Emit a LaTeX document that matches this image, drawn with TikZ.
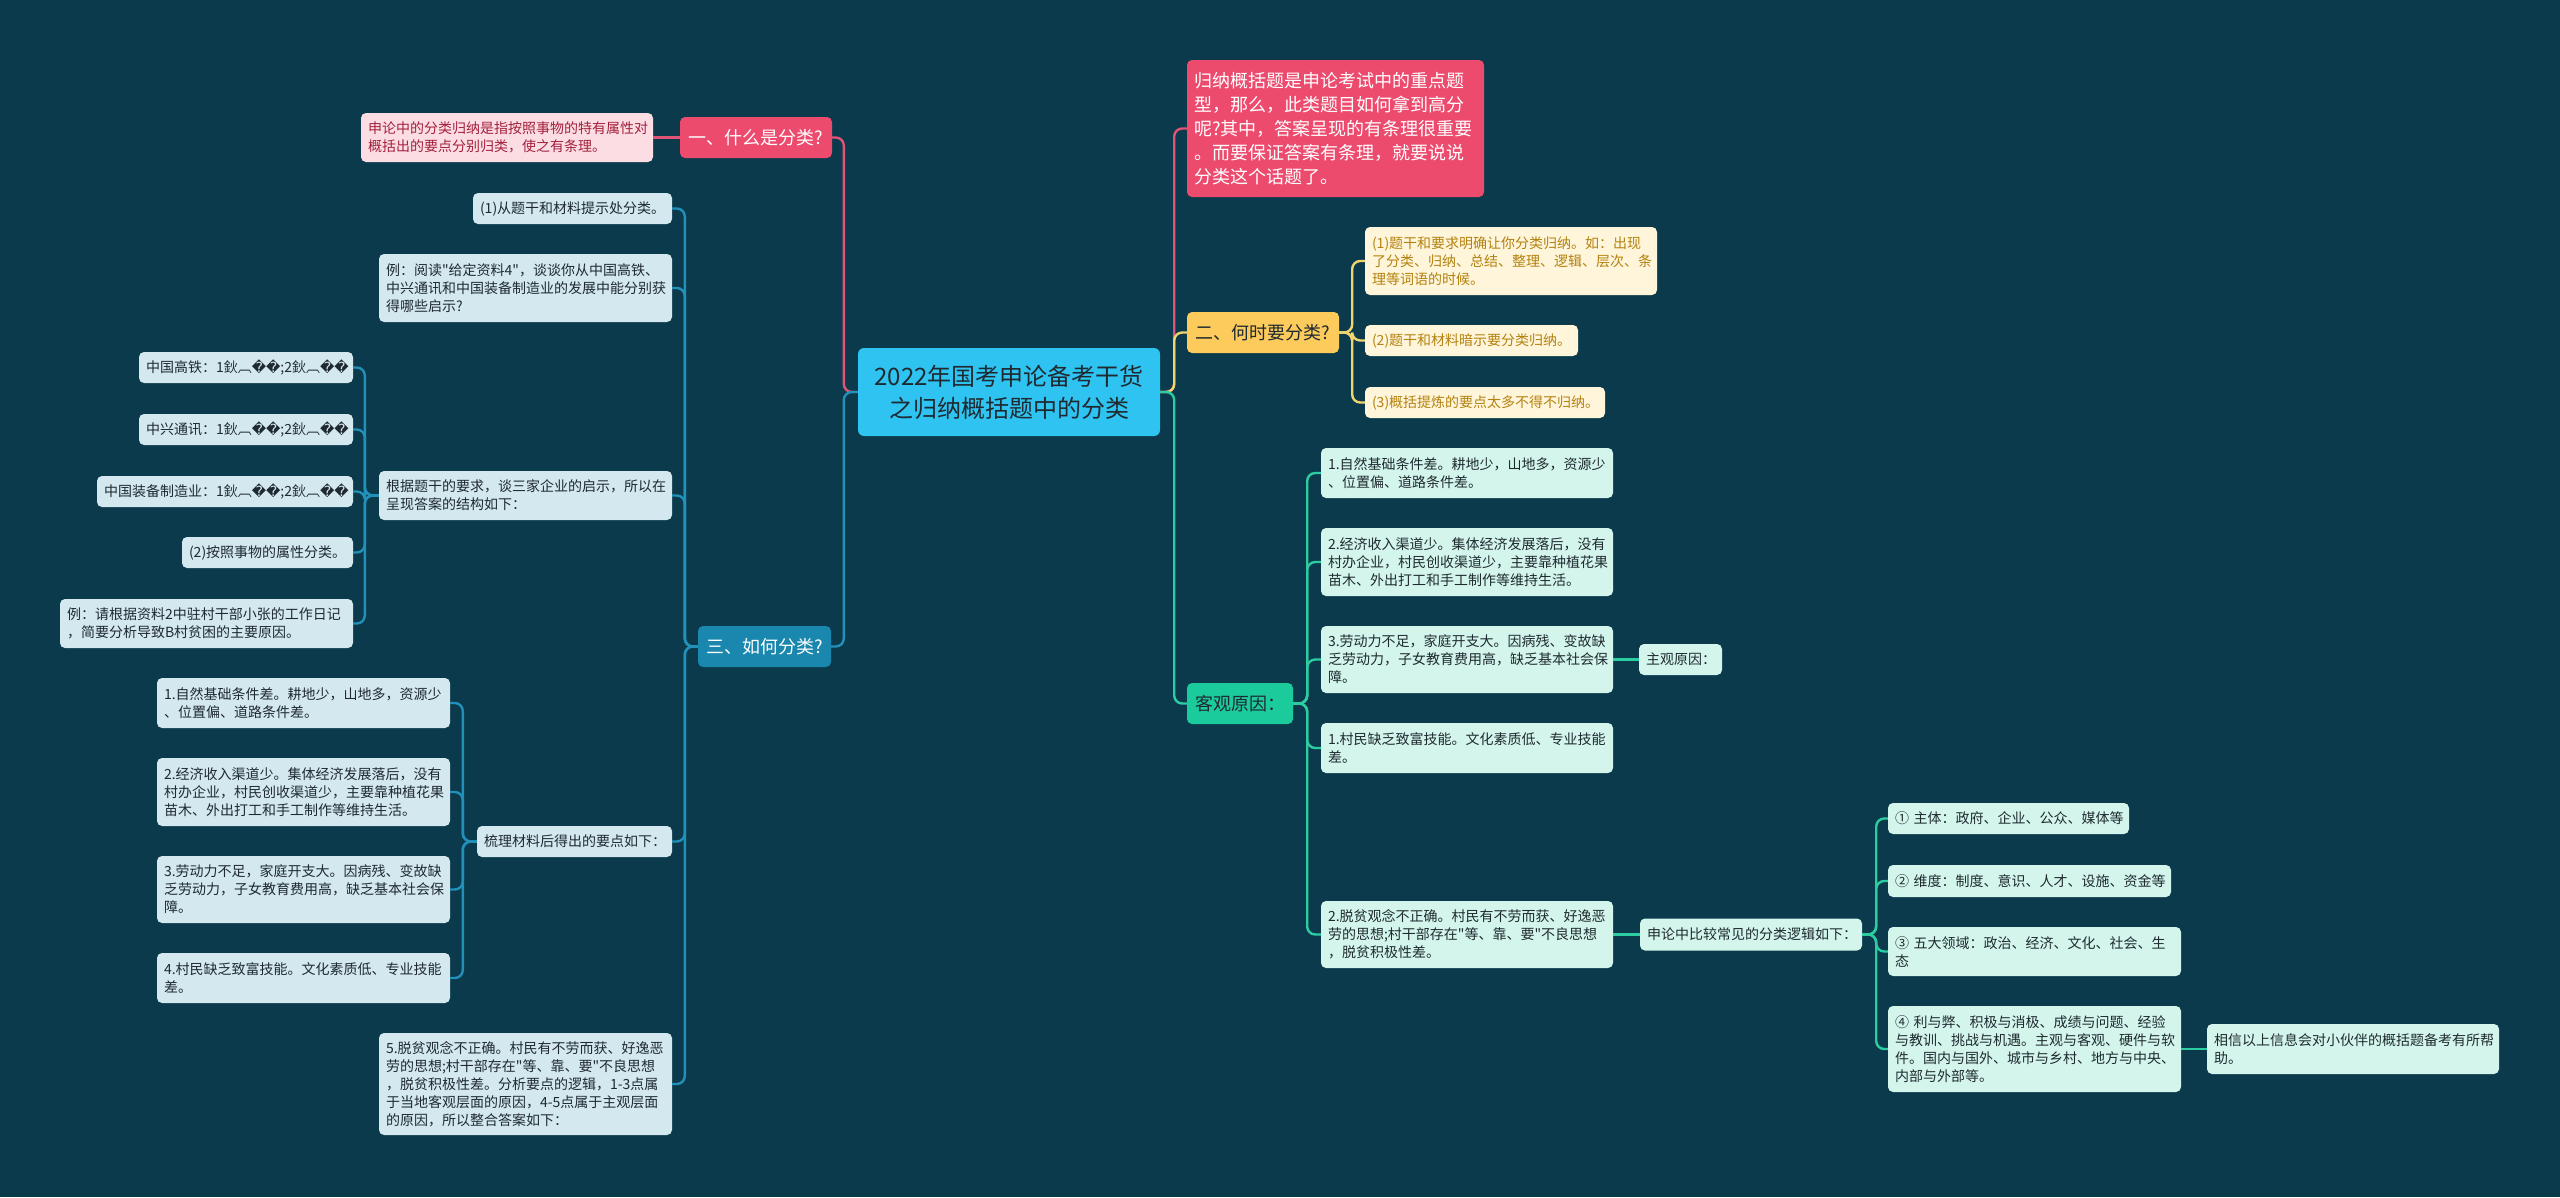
\documentclass[tikz,border=0pt]{standalone}
\usepackage{fontspec}
\setmainfont{Noto Sans CJK SC}
\newfontfamily\cjk{Noto Sans CJK SC}
\newfontfamily\dvs{DejaVu Sans}
\newcommand\rp{{\dvs �}}
\definecolor{cBg}{HTML}{0A3A4B}
\definecolor{cPinkTop}{HTML}{EC4B6E}
\definecolor{cPinkLight}{HTML}{FCDDE3}
\definecolor{cPinkText}{HTML}{A3213D}
\definecolor{cPinkLine}{HTML}{E05478}
\definecolor{cBlueTop}{HTML}{1987AE}
\definecolor{cBlueLight}{HTML}{D4E8F0}
\definecolor{cBlueLine}{HTML}{2290B8}
\definecolor{cRoot}{HTML}{2EC3F1}
\definecolor{cYelTop}{HTML}{FDCB5B}
\definecolor{cYelLight}{HTML}{FFF5DA}
\definecolor{cYelText}{HTML}{B3820F}
\definecolor{cYelLine}{HTML}{F0D470}
\definecolor{cGrnTop}{HTML}{1BCB9B}
\definecolor{cGrnLight}{HTML}{D3F5EC}
\definecolor{cGrnLine}{HTML}{2CCDA0}
\definecolor{cDark}{HTML}{1F2A30}
\tikzset{
  nbase/.style={rounded corners=5pt, inner xsep=7pt, inner ysep=0pt, align=left},
  smallf/.style={font=\cjk\fontsize{14}{18}\selectfont},
  midf/.style={font=\cjk\fontsize{18}{24}\selectfont},
  topbox/.style={rounded corners=5pt, inner sep=0pt, align=center, midf, minimum height=41pt},
  leafP/.style={nbase, smallf, fill=cPinkLight, text=cPinkText},
  leafB/.style={nbase, smallf, fill=cBlueLight, text=cDark},
  leafY/.style={nbase, smallf, fill=cYelLight, text=cYelText},
  leafG/.style={nbase, smallf, fill=cGrnLight, text=cDark},
  conn/.style={line width=2.4pt, rounded corners=8pt},
  lineP/.style={conn, draw=cPinkLine},
  lineB/.style={conn, draw=cBlueLine},
  lineY/.style={conn, draw=cYelLine},
  lineG/.style={conn, draw=cGrnLine},
}
\begin{document}
\begin{tikzpicture}[x=1pt, y=-1pt]
\fill[cBg] (0,0) rectangle (2560,1197);
\useasboundingbox (0,0) rectangle (2560,1197);

% root
\node[rounded corners=6pt, inner sep=0pt, align=center, fill=cRoot, text=cDark,
  font=\cjk\fontsize{24}{32}\selectfont, minimum width=302pt, minimum height=88pt]
  (root) at (1009,392) {2022年国考申论备考干货\\之归纳概括题中的分类};

% left: branch one
\node[topbox, fill=cPinkTop, text=white, minimum width=152pt] (one) at (756,137.5) {一、什么是分类?};
\node[leafP, text width=278pt, minimum height=49pt] (note1) at (507,137.5)
  {申论中的分类归纳是指按照事物的特有属性对\\概括出的要点分别归类，使之有条理。};

% left: branch three
\node[topbox, fill=cBlueTop, text=white, minimum width=133pt] (three) at (764.5,646.5) {三、如何分类?};
\node[leafB, text width=185pt, minimum height=31pt] (a1) at (572.5,208.5) {(1)从题干和材料提示处分类。};
\node[leafB, text width=279pt, minimum height=68pt] (a2) at (525.5,288)
  {例：阅读"给定资料4"，谈谈你从中国高铁、\\中兴通讯和中国装备制造业的发展中能分别获\\得哪些启示?};
\node[leafB, text width=279pt, minimum height=49pt] (a3) at (525.5,495.5)
  {根据题干的要求，谈三家企业的启示，所以在\\呈现答案的结构如下：};
\node[leafB, text width=200pt, minimum height=31pt] (b1) at (246,367.5) {中国高铁：1鈥︹\rp\rp;2鈥︹\rp\rp};
\node[leafB, text width=200pt, minimum height=31pt] (b2) at (246,429.5) {中兴通讯：1鈥︹\rp\rp;2鈥︹\rp\rp};
\node[leafB, text width=242pt, minimum height=31pt] (b3) at (225,491.5) {中国装备制造业：1鈥︹\rp\rp;2鈥︹\rp\rp};
\node[leafB, text width=157pt, minimum height=31pt] (b4) at (267.5,552.5) {(2)按照事物的属性分类。};
\node[leafB, text width=279pt, minimum height=49pt] (b5) at (206.5,623.5)
  {例：请根据资料2中驻村干部小张的工作日记\\，简要分析导致B村贫困的主要原因。};
\node[leafB, text width=181pt, minimum height=31pt] (a4) at (574.5,841.5) {梳理材料后得出的要点如下：};
\node[leafB, text width=279pt, minimum height=50pt] (c1) at (303.5,703)
  {1.自然基础条件差。耕地少，山地多，资源少\\、位置偏、道路条件差。};
\node[leafB, text width=279pt, minimum height=68pt] (c2) at (303.5,792)
  {2.经济收入渠道少。集体经济发展落后，没有\\村办企业，村民创收渠道少，主要靠种植花果\\苗木、外出打工和手工制作等维持生活。};
\node[leafB, text width=279pt, minimum height=67pt] (c3) at (303.5,889.5)
  {3.劳动力不足，家庭开支大。因病残、变故缺\\乏劳动力，子女教育费用高，缺乏基本社会保\\障。};
\node[leafB, text width=279pt, minimum height=50pt] (c4) at (303.5,978)
  {4.村民缺乏致富技能。文化素质低、专业技能\\差。};
\node[leafB, text width=279pt, minimum height=102pt] (a5) at (525.5,1084)
  {5.脱贫观念不正确。村民有不劳而获、好逸恶\\劳的思想;村干部存在"等、靠、要"不良思想\\，脱贫积极性差。分析要点的逻辑，1-3点属\\于当地客观层面的原因，4-5点属于主观层面\\的原因，所以整合答案如下：};

% right: intro
\node[nbase, midf, fill=cPinkTop, text=white, text width=283pt, minimum height=137pt] (intro) at (1335.5,128.5)
  {归纳概括题是申论考试中的重点题\\型，那么，此类题目如何拿到高分\\呢?其中，答案呈现的有条理很重要\\。而要保证答案有条理，就要说说\\分类这个话题了。};

% right: branch two
\node[topbox, fill=cYelTop, text=cDark, minimum width=152pt] (two) at (1263,332.5) {二、何时要分类?};
\node[leafY, text width=278pt, minimum height=68pt] (y1) at (1511,261)
  {(1)题干和要求明确让你分类归纳。如：出现\\了分类、归纳、总结、整理、逻辑、层次、条\\理等词语的时候。};
\node[leafY, text width=199pt, minimum height=31pt] (y2) at (1471.5,340.5) {(2)题干和材料暗示要分类归纳。};
\node[leafY, text width=226pt, minimum height=31pt] (y3) at (1485,402.5) {(3)概括提炼的要点太多不得不归纳。};

% right: objective reasons
\node[topbox, fill=cGrnTop, text=cDark, minimum width=106pt] (obj) at (1240,703.5) {客观原因：};
\node[leafG, text width=278pt, minimum height=50pt] (g1) at (1467,473)
  {1.自然基础条件差。耕地少，山地多，资源少\\、位置偏、道路条件差。};
\node[leafG, text width=278pt, minimum height=68pt] (g2) at (1467,562)
  {2.经济收入渠道少。集体经济发展落后，没有\\村办企业，村民创收渠道少，主要靠种植花果\\苗木、外出打工和手工制作等维持生活。};
\node[leafG, text width=278pt, minimum height=67pt] (g3) at (1467,659.5)
  {3.劳动力不足，家庭开支大。因病残、变故缺\\乏劳动力，子女教育费用高，缺乏基本社会保\\障。};
\node[leafG, text width=69pt, minimum height=31pt] (subj) at (1680.5,659.5) {主观原因：};
\node[leafG, text width=278pt, minimum height=50pt] (g4) at (1467,748)
  {1.村民缺乏致富技能。文化素质低、专业技能\\差。};
\node[leafG, text width=278pt, minimum height=67pt] (g5) at (1467,934.5)
  {2.脱贫观念不正确。村民有不劳而获、好逸恶\\劳的思想;村干部存在"等、靠、要"不良思想\\，脱贫积极性差。};
\node[leafG, text width=208pt, minimum height=32pt] (logic) at (1751,934.5) {申论中比较常见的分类逻辑如下：};
\node[leafG, text width=227pt, minimum height=31pt] (n1) at (2008.5,818.5) {①~主体：政府、企业、公众、媒体等};
\node[leafG, text width=269pt, minimum height=32pt] (n2) at (2029.5,881) {②~维度：制度、意识、人才、设施、资金等};
\node[leafG, text width=279pt, minimum height=49pt] (n3) at (2034.5,951.5) {③~五大领域：政治、经济、文化、社会、生\\态};
\node[leafG, text width=279pt, minimum height=86pt] (n4) at (2034.5,1049)
  {④~利与弊、积极与消极、成绩与问题、经验\\与教训、挑战与机遇。主观与客观、硬件与软\\件。国内与国外、城市与乡村、地方与中央、\\内部与外部等。};
\node[leafG, text width=278pt, minimum height=50pt] (fin) at (2353,1049)
  {相信以上信息会对小伙伴的概括题备考有所帮\\助。};

% connectors left
\draw[lineP] (root.west) -- ++(-14,0) |- (one.east);
\draw[lineP] (one.west) -- (note1.east);
\draw[lineB] (root.west) -- ++(-14,0) |- (three.east);
\foreach \c in {a1,a2,a3,a4,a5} \draw[lineB] (three.west) -- ++(-13,0) |- (\c.east);
\foreach \c in {b1,b2,b3,b4,b5} \draw[lineB] (a3.west) -- ++(-14,0) |- (\c.east);
\foreach \c in {c1,c2,c3,c4} \draw[lineB] (a4.west) -- ++(-14,0) |- (\c.east);

% connectors right
\draw[lineP] (root.east) -- ++(14,0) |- (intro.west);
\draw[lineY] (root.east) -- ++(14,0) |- (two.west);
\draw[lineG] (root.east) -- ++(14,0) |- (obj.west);
\foreach \c in {y1,y2,y3} \draw[lineY] (two.east) -- ++(13,0) |- (\c.west);
\foreach \c in {g1,g2,g3,g4,g5} \draw[lineG] (obj.east) -- ++(14,0) |- (\c.west);
\draw[lineG] (g3.east) -- (subj.west);
\draw[lineG] (g5.east) -- (logic.west);
\foreach \c in {n1,n2,n3,n4} \draw[lineG] (logic.east) -- ++(14,0) |- (\c.west);
\draw[lineG] (n4.east) -- (fin.west);
\end{tikzpicture}
\end{document}
